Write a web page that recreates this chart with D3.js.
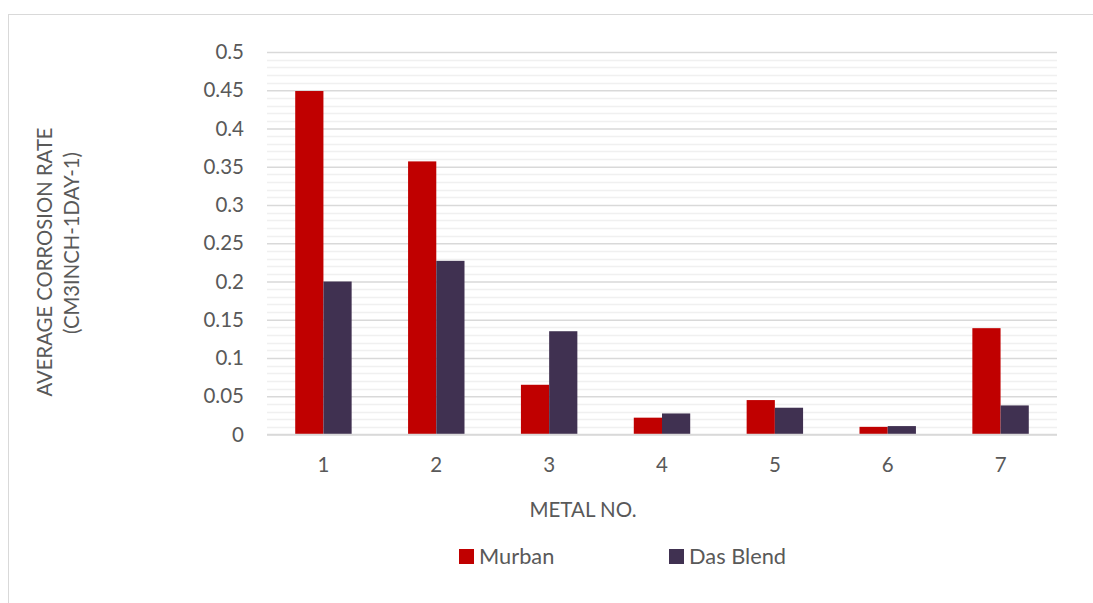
<!DOCTYPE html>
<html>
<head>
<meta charset="utf-8">
<script src="https://cdn.jsdelivr.net/npm/d3@7"></script>
<style>
  html, body { margin: 0; padding: 0; background: #fff; }
  svg { display: block; }
  text { font-family: Lato, "Open Sans", sans-serif; fill: #595959; }
</style>
</head>
<body>
<svg id="chart" width="1093" height="603"></svg>
<script>
const categories = ["1", "2", "3", "4", "5", "6", "7"];
const seriesNames = ["Murban", "Das Blend"];
const murban = [0.449, 0.357, 0.065, 0.022, 0.045, 0.010, 0.139];
const dasBlend = [0.200, 0.227, 0.135, 0.0275, 0.035, 0.011, 0.038];
const yTicks = [0, 0.05, 0.1, 0.15, 0.2, 0.25, 0.3, 0.35, 0.4, 0.45, 0.5];
const yMinorTicks = d3.range(0, 51).map(i => i / 100);
const colors = ["#C00000", "#403151"];

const svg = d3.select("#chart");
const plot = { left: 267, right: 1057, top: 52, bottom: 434.5 };

// outer frame
svg.append("rect")
  .attr("x", 8.5).attr("y", 14.5)
  .attr("width", 1200).attr("height", 800)
  .attr("fill", "#fff").attr("stroke", "#d9d9d9").attr("stroke-width", 1);

const x = d3.scaleBand().domain(categories).range([plot.left, plot.right]).paddingInner(0).paddingOuter(0);
const y = d3.scaleLinear().domain([0, 0.5]).range([plot.bottom, plot.top]);
const xs = d3.scaleBand().domain(seriesNames).range([0, x.bandwidth()]).paddingInner(0).paddingOuter(1);

// minor gridlines
svg.append("g").selectAll("line")
  .data(yMinorTicks.filter(v => Math.round(v * 100) % 5 !== 0))
  .join("line")
  .attr("x1", plot.left).attr("x2", plot.right)
  .attr("y1", d => Math.round(y(d)) + 0.5).attr("y2", d => Math.round(y(d)) + 0.5)
  .attr("stroke", "#f0f0f0").attr("stroke-width", 1.5);

// major gridlines via axis
const yAxisGrid = d3.axisLeft(y).tickValues(yTicks).tickSize(-(plot.right - plot.left)).tickFormat("");
const gg = svg.append("g").attr("transform", `translate(${plot.left},0)`).call(yAxisGrid);
gg.select(".domain").remove();
gg.selectAll(".tick line").attr("stroke", "#d9d9d9").attr("stroke-width", 1.5);

// y tick labels
const yAxis = d3.axisLeft(y).tickValues(yTicks).tickSize(0).tickPadding(0).tickFormat(d => String(d));
const ya = svg.append("g").attr("transform", `translate(${plot.left - 23},0)`).call(yAxis);
ya.select(".domain").remove();
ya.selectAll("text").attr("font-size", 20.5).attr("fill", "#595959")
  .style("font-family", "Lato, sans-serif");

// bars
const data = categories.map((c, i) => ({ cat: c, vals: [murban[i], dasBlend[i]] }));
const groups = svg.append("g").selectAll("g").data(data).join("g")
  .attr("transform", d => `translate(${x(d.cat)},0)`);
groups.selectAll("rect")
  .data(d => d.vals.map((v, j) => ({ name: seriesNames[j], v, j })))
  .join("rect")
  .attr("x", d => xs(d.name))
  .attr("width", xs.bandwidth())
  .attr("y", d => y(d.v))
  .attr("height", d => y(0) - y(d.v))
  .attr("fill", d => colors[d.j]);

// x axis line
svg.append("line")
  .attr("x1", plot.left).attr("x2", plot.right)
  .attr("y1", plot.bottom).attr("y2", plot.bottom)
  .attr("stroke", "#d9d9d9").attr("stroke-width", 1.5);

// x tick labels
const xAxis = d3.axisBottom(x).tickSize(0).tickPadding(0);
const xa = svg.append("g").attr("transform", `translate(0,${plot.bottom + 23})`).call(xAxis);
xa.select(".domain").remove();
xa.selectAll("text").attr("font-size", 20.5).attr("fill", "#595959")
  .attr("dy", "0.72em")
  .style("font-family", "Lato, sans-serif");

// axis titles
svg.append("text")
  .attr("x", 583).attr("y", 517)
  .attr("text-anchor", "middle").attr("font-size", 20.5)
  .text("METAL NO.");

svg.append("text")
  .attr("transform", "translate(52,262) rotate(-90)")
  .attr("text-anchor", "middle").attr("font-size", 20.3)
  .text("AVERAGE CORROSION RATE");
svg.append("text")
  .attr("transform", "translate(79,243) rotate(-90)")
  .attr("text-anchor", "middle").attr("font-size", 20.3)
  .text("(CM3INCH-1DAY-1)");

// legend
const legendX = [459, 669];
const lg = svg.append("g").selectAll("g").data(seriesNames).join("g")
  .attr("transform", (d, i) => `translate(${legendX[i]},549)`);
lg.append("rect").attr("width", 15).attr("height", 15).attr("fill", (d, i) => colors[i]);
lg.append("text").attr("x", 20).attr("y", 15).attr("font-size", 21.8).text(d => d);
</script>
</body>
</html>
